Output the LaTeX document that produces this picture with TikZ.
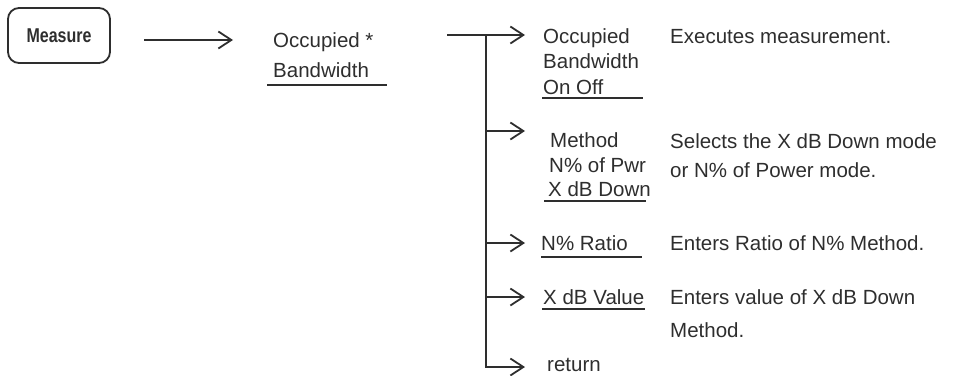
\documentclass[tikz,border=0pt]{standalone}
\usepackage{fontspec}
\setmainfont{Liberation Sans}
\usetikzlibrary{arrows.meta}
\definecolor{ink}{HTML}{2E2E2E}
\begin{document}
\begin{tikzpicture}[x=1pt,y=-1pt]
\tikzset{
  inkline/.style={draw=ink, line width=1.8pt},
  arr/.style={inkline, -{Straight Barb[length=13pt,width=17pt,line width=1.8pt]}},
  lbl/.style={anchor=base west, inner sep=0pt, text=ink, font=\fontsize{20.5}{24}\selectfont},
  keybox/.style={draw=ink, line width=1.8pt, rounded corners=11pt, minimum width=102pt, minimum height=55pt, inner sep=0pt, text=ink},
}
\useasboundingbox (0,0) rectangle (955,375);
% key
\node[keybox] (measure) at (59,35.5) {\fontsize{20}{22}\selectfont\bfseries\scalebox{0.8}[1]{Measure}};
\coordinate (a1s) at (144,40);
\coordinate (a1e) at (233,40);
\draw[arr] (a1s) -- (a1e);
% first level softkey
\node[lbl] (occ1) at (273,47) {Occupied *};
\node[lbl] (occ2) at (273,77) {Bandwidth};
\coordinate (ul0a) at (267,85); \coordinate (ul0b) at (387,85);
\draw[inkline] (ul0a) -- (ul0b);
% trunk
\coordinate (t0) at (447,35);
\coordinate (b1) at (486,35);
\coordinate (b2) at (486,131);
\coordinate (b3) at (486,243);
\coordinate (b4) at (486,297);
\coordinate (b5) at (486,367);
\coordinate (e1) at (525,35);
\coordinate (e2) at (525,131);
\coordinate (e3) at (525,243);
\coordinate (e4) at (525,297);
\coordinate (e5) at (525,367);
\draw[inkline] (t0) -- (b1);
\draw[inkline, line cap=rect] (b1) -- (b5);
\draw[arr] (b1) -- (e1);
\draw[arr] (b2) -- (e2);
\draw[arr] (b3) -- (e3);
\draw[arr] (b4) -- (e4);
\draw[arr] (b5) -- (e5);
% item 1
\node[lbl] (i1a) at (543,43) {Occupied};
\node[lbl] (i1b) at (543,68) {Bandwidth};
\node[lbl] (i1c) at (543,94) {On Off};
\coordinate (ul1a) at (542,98); \coordinate (ul1b) at (643,98);
\draw[inkline] (ul1a) -- (ul1b);
\node[lbl] (d1) at (670,43) {Executes measurement.};
% item 2
\node[lbl] (i2a) at (550,147) {Method};
\node[lbl] (i2b) at (549,172) {N\% of Pwr};
\node[lbl] (i2c) at (548,196) {X dB Down};
\coordinate (ul2a) at (544,201); \coordinate (ul2b) at (646,201);
\draw[inkline] (ul2a) -- (ul2b);
\node[lbl] (d2a) at (670,148) {Selects the X dB Down mode};
\node[lbl] (d2b) at (670,177) {or N\% of Power mode.};
% item 3
\node[lbl] (i3) at (541,250) {N\% Ratio};
\coordinate (ul3a) at (541,257); \coordinate (ul3b) at (642,257);
\draw[inkline] (ul3a) -- (ul3b);
\node[lbl] (d3) at (670,250) {Enters Ratio of N\% Method.};
% item 4
\node[lbl] (i4) at (543,304) {X dB Value};
\coordinate (ul4a) at (542,309); \coordinate (ul4b) at (645,309);
\draw[inkline] (ul4a) -- (ul4b);
\node[lbl] (d4a) at (670,304) {Enters value of X dB Down};
\node[lbl] (d4b) at (670,337) {Method.};
% item 5
\node[lbl] (i5) at (547,371) {return};
\end{tikzpicture}
\end{document}
